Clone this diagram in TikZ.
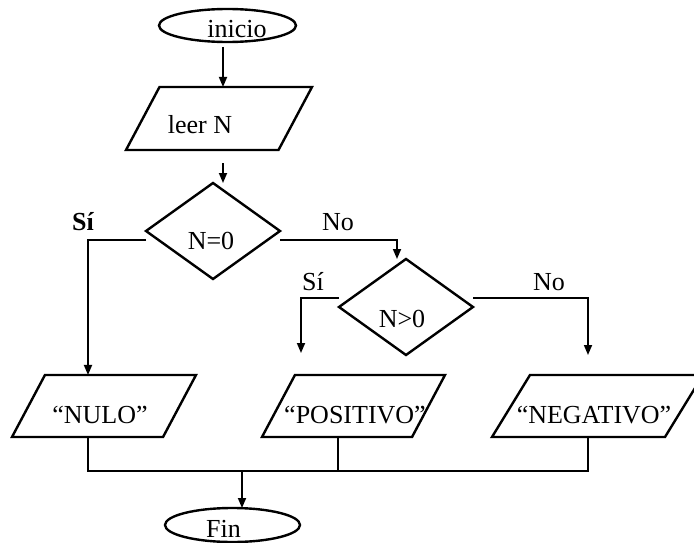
\documentclass[tikz,border=0pt]{standalone}
\usepackage{fontspec}
\setmainfont{Liberation Serif}
\usetikzlibrary{shapes.geometric,arrows.meta}
\begin{document}
\begin{tikzpicture}[x=1pt,y=-1pt,
  shapeline/.style={draw, line width=2.4pt, inner sep=0pt, outer sep=0pt},
  terminal/.style={shapeline, ellipse},
  decision/.style={shapeline, diamond, minimum width=134pt, minimum height=96pt},
  io/.style={shapeline, trapezium, trapezium left angle=62, trapezium right angle=118,
             trapezium stretches body, inner xsep=0pt, inner ysep=31pt},
  txt/.style={anchor=base, inner sep=0pt, font=\fontsize{26}{30}\selectfont},
  link/.style={line width=1.7pt},
  arrow/.style={link, -{Triangle[length=10pt,width=8pt]}}
]
\useasboundingbox (0,0) rectangle (694,543);

% shapes
\node[terminal, minimum width=137pt, minimum height=33pt] (inicio) at (227.5,25.5) {};
\node[txt] (tinicio) at (237,38) {inicio};
\node[io, inner ysep=31.5pt, minimum width=186pt] (leer) at (219,118.5) {};
\node[txt] (tleer) at (200,133) {leer N};
\node[decision] (d1) at (213,231) {};
\node[txt] (td1) at (211,249) {N=0};
\node[decision] (d2) at (406,307) {};
\node[txt] (td2) at (402,327) {N>0};
\node[io, minimum width=184pt] (nulo) at (104,406) {};
\node[txt] (tnulo) at (100,423) {“NULO”};
\node[io, minimum width=183pt] (pos) at (353.5,406) {};
\node[txt] (tpos) at (355,423) {“POSITIVO”};
\node[io, trapezium left angle=58.5, trapezium right angle=121.5, minimum width=211pt] (neg) at (597.5,406) {};
\node[txt] (tneg) at (594,423) {“NEGATIVO”};
\node[terminal, minimum width=135pt, minimum height=34pt] (fin) at (232.5,525) {};
\node[txt] (tfin) at (223.5,537) {Fin};

% branch labels
\node[txt] (si1) at (83,230) {\bfseries Sí};
\node[txt] (no1) at (338,230) {No};
\node[txt] (si2) at (313,290) {Sí};
\node[txt] (no2) at (549,290) {No};

% guide points for the connectors
\coordinate (c1) at (223,0);
\coordinate (c2) at (88,0);
\coordinate (c3) at (397,0);
\coordinate (c4) at (301,353);
\coordinate (c5) at (588,355);
\coordinate (j1) at (88,471);
\coordinate (j2) at (338,471);
\coordinate (j3) at (588,471);
\coordinate (j0) at (242,471);

% connectors
\draw[arrow] ([yshift=-5pt]inicio.south -| c1) -- (leer.north -| c1);
\draw[arrow] ([yshift=-13pt]leer.south -| c1) -- (d1.north -| c1);
\draw[arrow] ([yshift=-9pt]d1.west) -| (nulo.north -| c2);
\draw[arrow] ([yshift=-9pt]d1.east) -| (d2.north -| c3);
\draw[arrow] ([yshift=9pt]d2.west) -| (c4);
\draw[arrow] ([yshift=9pt]d2.east) -| (c5);
\draw[link] (nulo.south -| j1) -- (j1) -- (j3) -- (neg.south -| j3);
\draw[link] (pos.south -| j2) -- (j2);
\draw[arrow] (j0) -- (fin.north -| j0);
\end{tikzpicture}
\end{document}
